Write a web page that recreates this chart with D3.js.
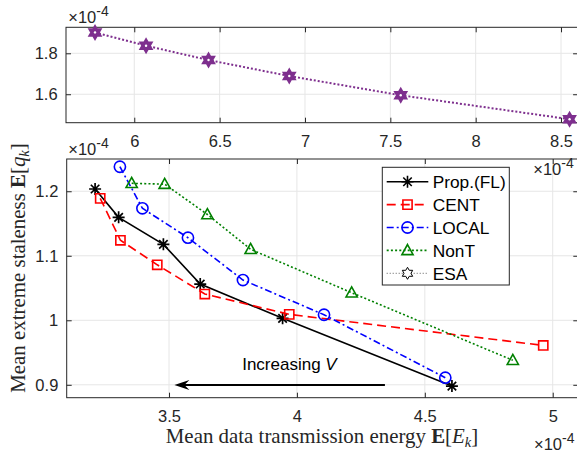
<!DOCTYPE html>
<html><head><meta charset="utf-8">
<script src="https://cdn.jsdelivr.net/npm/d3@7"></script>
<style>
body{margin:0;background:#fff}
svg{display:block}
text{font-family:"Liberation Sans",Arial,Helvetica,sans-serif;fill:#262626}
</style>
</head><body>
<svg id="c" width="577" height="458"></svg>
<script>
// ---- data (values in units of 1e-4) ----
const esaE   = [5.770, 6.069, 6.435, 6.908, 7.561, 8.550];
const esaQ   = [1.902, 1.837, 1.767, 1.689, 1.595, 1.478];
const propE  = [3.211, 3.303, 3.478, 3.622, 3.944, 4.606];
const propQ  = [1.2035, 1.1596, 1.1177, 1.0562, 1.003, 0.898];
const centE  = [3.231, 3.310, 3.454, 3.640, 3.970, 4.963];
const centQ  = [1.189, 1.124, 1.086, 1.0407, 1.0092, 0.961];
const localE = [3.308, 3.396, 3.574, 3.789, 4.106, 4.580];
const localQ = [1.238, 1.1736, 1.128, 1.0624, 1.0086, 0.911];
const nontE  = [3.354, 3.483, 3.650, 3.819, 4.214, 4.844];
const nontQ  = [1.2123, 1.211, 1.164, 1.110, 1.0427, 0.938];
const topXTicks  = [6, 6.5, 7, 7.5, 8, 8.5];
const topYTicks  = [1.6, 1.8];
const mainXTicks = [3.5, 4, 4.5, 5];
const mainYTicks = [0.9, 1, 1.1, 1.2];
const legendNames = ["Prop.(FL)", "CENT", "LOCAL", "NonT", "ESA"];
const arrowFromTo = [[4.344, 0.8997], [3.521, 0.8997]];
const annotPos = [3.786, 0.923];

const svg = d3.select("#c");
const AX = "#262626", GRID = "#e6e6e6";

// ---- scales ----
const xTop = d3.scaleLinear().domain([5.6, 8.6]).range([66, 578.1]);
const yTop = d3.scaleLinear().domain([1.461, 1.927]).range([122.7, 27.3]);
const xMain = d3.scaleLinear().domain([3.1, 5.1]).range([66.7, 578.3]);
const yMain = d3.scaleLinear().domain([0.88, 1.25]).range([397.7, 159]);

const fmt = d => String(d);

function panel(x, y, xt, yt) {
  const [x0, x1] = x.range(), [yb, yt0] = y.range();
  const g = svg.append("g");
  g.append("rect").attr("x", x0).attr("y", yt0).attr("width", x1 - x0).attr("height", yb - yt0).attr("fill", "#fff");
  g.append("g").selectAll("line").data(xt).join("line")
    .attr("x1", d => x(d)).attr("x2", d => x(d)).attr("y1", yt0).attr("y2", yb)
    .attr("stroke", GRID).attr("stroke-width", 1);
  g.append("g").selectAll("line").data(yt).join("line")
    .attr("y1", d => y(d)).attr("y2", d => y(d)).attr("x1", x0).attr("x2", x1)
    .attr("stroke", GRID).attr("stroke-width", 1);
  const ab = g.append("g").attr("transform", `translate(0,${yb})`)
    .call(d3.axisBottom(x).tickValues(xt).tickSize(-5).tickPadding(12.3).tickFormat(fmt));
  const aT = g.append("g").attr("transform", `translate(0,${yt0})`)
    .call(d3.axisTop(x).tickValues(xt).tickSize(-5).tickFormat(""));
  const al = g.append("g").attr("transform", `translate(${x0},0)`)
    .call(d3.axisLeft(y).tickValues(yt).tickSize(-5).tickPadding(8.4).tickFormat(fmt));
  const ar = g.append("g").attr("transform", `translate(${x1},0)`)
    .call(d3.axisRight(y).tickValues(yt).tickSize(-5).tickFormat(""));
  [ab, aT, al, ar].forEach(a => {
    a.select(".domain").remove();
    a.selectAll(".tick line").attr("stroke", AX).attr("stroke-width", 1);
    a.selectAll(".tick text").attr("font-size", 16.5).attr("fill", AX)
      .style("font-family", '"Liberation Sans",Arial,sans-serif');
  });
  g.append("rect").attr("x", x0).attr("y", yt0).attr("width", x1 - x0).attr("height", yb - yt0)
    .attr("fill", "none").attr("stroke", AX).attr("stroke-width", 1);
  return g;
}

function markerPath(type, r) {
  switch (type) {
    case "star": {
      const a = r * 0.7071;
      return `M${-r},0H${r}M0,${-r}V${r}M${-a},${-a}L${a},${a}M${-a},${a}L${a},${-a}`;
    }
    case "square": return `M${-r},${-r}h${2*r}v${2*r}h${-2*r}Z`;
    case "circle": return `M${r},0A${r},${r} 0 1 1 ${-r},0A${r},${r} 0 1 1 ${r},0Z`;
    case "tri": return `M0,${-r*1.05}L${r*1.0},${r*0.75}L${-r*1.0},${r*0.75}Z`;
    case "hex": {
      const pts = [];
      for (let k = 0; k < 12; k++) {
        const ang = (-90 + 30 * k) * Math.PI / 180;
        const rr = k % 2 === 0 ? r : r / Math.sqrt(3);
        pts.push([rr * Math.cos(ang), rr * Math.sin(ang)]);
      }
      return "M" + pts.map(p => p.join(",")).join("L") + "Z";
    }
  }
}

// ---- top panel (ESA) ----
const gTop = panel(xTop, yTop, topXTicks, topYTicks);
const esaPts = esaE.map((e, i) => [e, esaQ[i]]);
const lineTop = d3.line().x(d => xTop(d[0])).y(d => yTop(d[1]));
gTop.append("path").attr("d", lineTop(esaPts)).attr("fill", "none")
  .attr("stroke", "#7e2f8e").attr("stroke-width", 2).attr("stroke-dasharray", "2,2");
gTop.append("g").selectAll("path").data(esaPts).join("path")
  .attr("transform", d => `translate(${xTop(d[0])},${yTop(d[1])})`)
  .attr("d", markerPath("hex", 6.5)).attr("fill", "#7e2f8e")
  .attr("stroke", "#7e2f8e").attr("stroke-width", 2);
gTop.append("g").selectAll("circle").data(esaPts).join("circle")
  .attr("cx", d => xTop(d[0])).attr("cy", d => yTop(d[1])).attr("r", 1.2).attr("fill", "#fff");

// ---- main panel ----
const gMain = panel(xMain, yMain, mainXTicks, mainYTicks);
const lineMain = d3.line().x(d => xMain(d[0])).y(d => yMain(d[1]));
const series = [
  {E: propE, Q: propQ, color: "#000000", dash: null, mk: "star", r: 6, w: 1.6},
  {E: centE, Q: centQ, color: "#ff0000", dash: "9,5", mk: "square", r: 4.6, w: 1.6},
  {E: localE, Q: localQ, color: "#0000ff", dash: "7,3,2,3", mk: "circle", r: 5.6, w: 1.6},
  {E: nontE, Q: nontQ, color: "#008000", dash: "2,2.2", mk: "tri", r: 5.6, w: 1.6}
];
series.forEach(s => {
  const pts = s.E.map((e, i) => [e, s.Q[i]]);
  gMain.append("path").attr("d", lineMain(pts)).attr("fill", "none")
    .attr("stroke", s.color).attr("stroke-width", s.w)
    .attr("stroke-dasharray", s.dash);
  gMain.append("g").selectAll("path").data(pts).join("path")
    .attr("transform", d => `translate(${xMain(d[0])},${yMain(d[1])})`)
    .attr("d", markerPath(s.mk, s.r)).attr("fill", "none")
    .attr("stroke", s.color).attr("stroke-width", s.mk === "star" ? 1.7 : 1.6);
});

// arrow annotation
const ax1 = xMain(arrowFromTo[0][0]), ay1 = yMain(arrowFromTo[0][1]);
const ax2 = xMain(arrowFromTo[1][0]), ay2 = yMain(arrowFromTo[1][1]);
gMain.append("line").attr("x1", ax1).attr("y1", ay1).attr("x2", ax2 + 8).attr("y2", ay2)
  .attr("stroke", "#000").attr("stroke-width", 2);
gMain.append("path")
  .attr("d", `M${ax2},${ay2}L${ax2+15},${ay2-5}L${ax2+10},${ay2}L${ax2+15},${ay2+5}Z`)
  .attr("fill", "#000");
const at = gMain.append("text").attr("x", xMain(annotPos[0])).attr("y", yMain(annotPos[1]))
  .attr("font-size", 17).style("fill", "#000");
at.append("tspan").text("Increasing ");
at.append("tspan").attr("font-style", "italic").text("V");

// legend
const lg = svg.append("g");
lg.append("rect").attr("x", 382.3).attr("y", 167.3).attr("width", 127).attr("height", 117.7)
  .attr("fill", "#fff").attr("stroke", AX).attr("stroke-width", 1);
const legSeries = series.concat([{color: "#333", dash: "1,2", mk: "hex", r: 6, w: 0.8}]);
legSeries.forEach((s, i) => {
  const yy = 181.7 + i * 22.9;
  lg.append("line").attr("x1", 386.7).attr("x2", 428.3).attr("y1", yy).attr("y2", yy)
    .attr("stroke", s.color).attr("stroke-width", s.w).attr("stroke-dasharray", s.dash);
  lg.append("path").attr("transform", `translate(407.5,${yy})`)
    .attr("d", markerPath(s.mk, s.r)).attr("fill", s.mk === "hex" ? "#fff" : "none")
    .attr("stroke", s.mk === "hex" ? "#000" : s.color).attr("stroke-width", s.mk === "hex" ? 1 : 1.6);
  lg.append("text").attr("x", 432.7).attr("y", yy).attr("dy", "0.36em")
    .attr("font-size", 17.3).style("fill", "#000").text(legendNames[i]);
});

// exponent labels
function expo(x, y) {
  const t = svg.append("text").attr("x", x).attr("y", y).attr("font-size", 16.5);
  t.append("tspan").text("×10");
  t.append("tspan").attr("dy", -7).attr("font-size", 14).text("-4");
}
expo(68.3, 23.3);   // top y
expo(68.3, 155);    // main y
expo(533.3, 175);   // top x
expo(534, 450);     // main x

// axis labels (serif, LaTeX-like)
const serif = '"Liberation Serif","Times New Roman",serif';
const xl = svg.append("text").attr("x", 322).attr("y", 443.3)
  .attr("text-anchor", "middle").attr("font-size", 20.9).style("font-family", serif);
xl.append("tspan").text("Mean data transmission energy ");
xl.append("tspan").attr("font-weight", "bold").text("E");
xl.append("tspan").text("[");
xl.append("tspan").attr("font-style", "italic").text("E");
xl.append("tspan").attr("font-style", "italic").attr("font-size", 14.5).attr("dy", 4).text("k");
xl.append("tspan").attr("dy", -4).text("]");

const yl = svg.append("text").attr("transform", `translate(25,268) rotate(-90)`)
  .attr("text-anchor", "middle").attr("font-size", 20.9).style("font-family", serif);
yl.append("tspan").text("Mean extreme staleness ");
yl.append("tspan").attr("font-weight", "bold").text("E");
yl.append("tspan").text("[");
yl.append("tspan").attr("font-style", "italic").text("q");
yl.append("tspan").attr("font-style", "italic").attr("font-size", 14.5).attr("dy", 4).text("k");
yl.append("tspan").attr("dy", -4).text("]");
</script>
</body></html>
